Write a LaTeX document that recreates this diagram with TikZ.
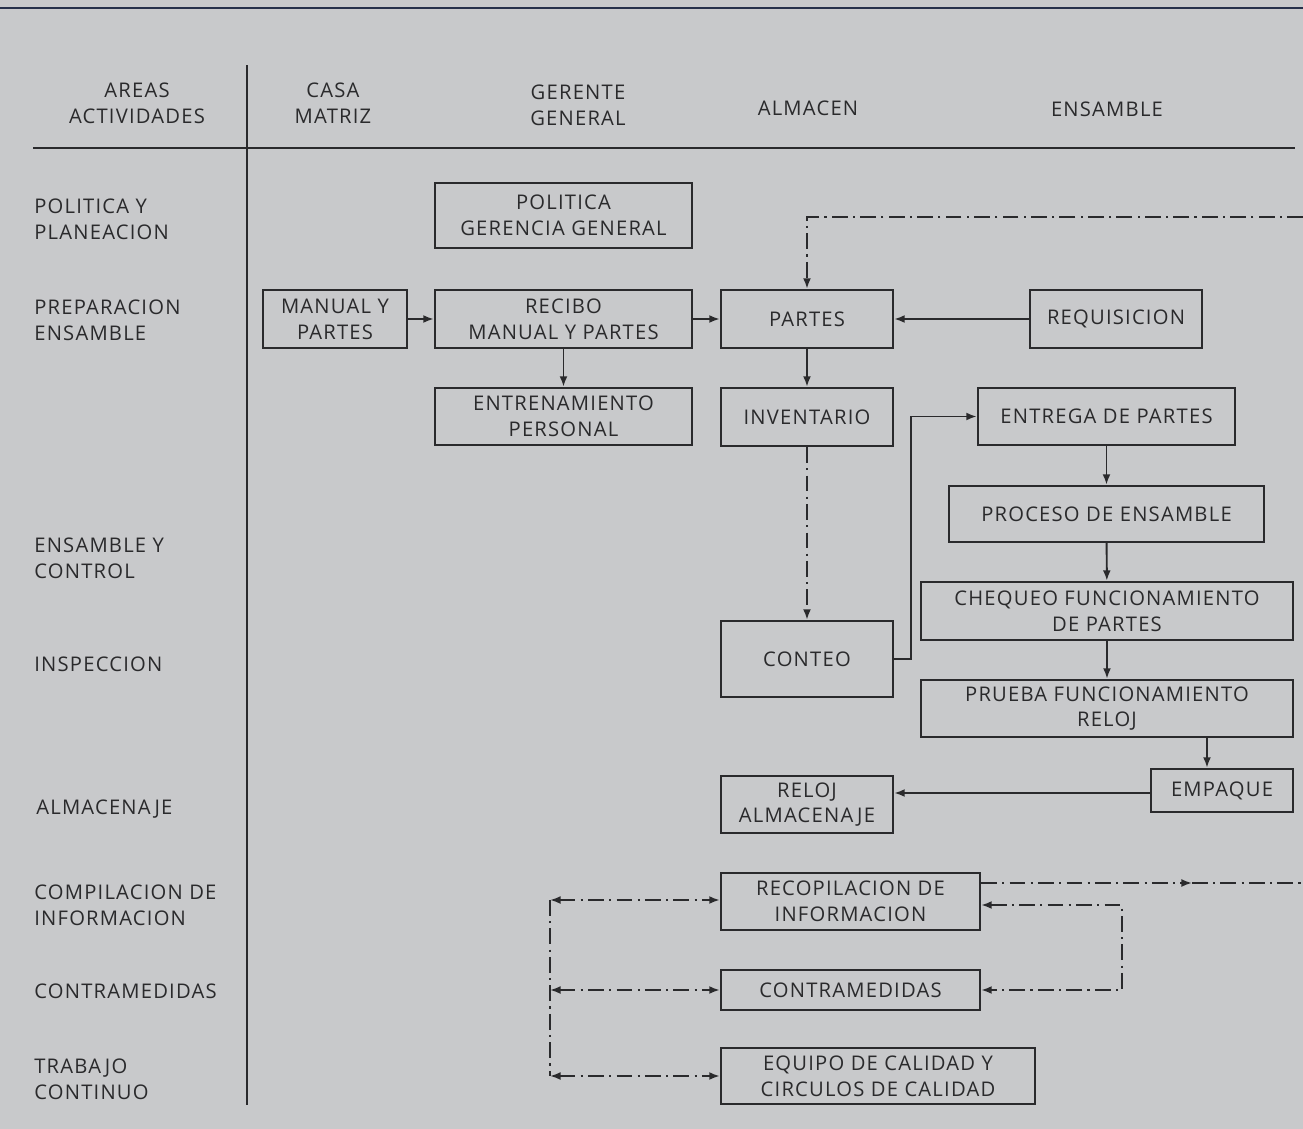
\documentclass[tikz,border=0pt]{standalone}
\usepackage{fontspec}
\setmainfont{Open Sans}[LetterSpace=6]
\usetikzlibrary{arrows.meta,positioning}
\definecolor{paper}{HTML}{C8C9CB}
\definecolor{ink}{HTML}{2A2A2C}
\definecolor{rule}{HTML}{26304A}
\newlength{\pxu}
\setlength{\pxu}{0.02cm}
\tikzset{
  box/.style={draw=ink,line width=1.3pt,text=ink,align=center,inner sep=0pt},
  lbl/.style={text=ink,align=center,inner sep=0pt},
  row/.style={text=ink,align=left,anchor=west,inner sep=0pt},
  arr/.style={draw=ink,line width=1.1pt,-{Latex[length=6pt,width=4.5pt]}},
  both/.style={draw=ink,line width=1.1pt,{Latex[length=6pt,width=4.5pt]}-{Latex[length=6pt,width=4.5pt]}},
  dd/.style={dash pattern=on 9pt off 3pt on 1.2pt off 3pt},
  sz/.style n args={2}{minimum width=#1\pxu,minimum height=#2\pxu}
}
\begin{document}
\begin{tikzpicture}[x=0.02cm,y=-0.02cm,font=\fontsize{11.5}{14.7}\selectfont]
  \fill[paper] (0,0) rectangle (1303,1129);
  \useasboundingbox (0,0) rectangle (1303,1129);
  % table rules
  \draw[rule,line width=1.5pt] (0,8) -- (1303,8);
  \draw[ink,line width=1.4pt] (33,148) -- (1295,148);
  \draw[ink,line width=1pt] (247,65) -- (247,1105);
  % column heads
  \node[lbl] (hAreas) at (137,103) {AREAS\\ACTIVIDADES};
  \node[lbl] (hCasa) at (333,103) {CASA\\MATRIZ};
  \node[lbl] (hGer) at (578,105) {GERENTE\\GENERAL};
  \node[lbl] (hAlm) at (808,108) {ALMACEN};
  \node[lbl] (hEns) at (1107,109) {ENSAMBLE};
  % row heads
  \node[row] (rPol) at (34,219) {POLITICA Y\\PLANEACION};
  \node[row] (rPrep) at (34,320.5) {PREPARACION\\ENSAMBLE};
  \node[row] (rEns) at (34,558.5) {ENSAMBLE Y\\CONTROL};
  \node[row] (rInsp) at (34,664) {INSPECCION};
  \node[row] (rAlm) at (36,809) {ALMACENAJE};
  \node[row] (rComp) at (34,905) {COMPILACION DE\\INFORMACION};
  \node[row] (rContra) at (34,991) {CONTRAMEDIDAS};
  \node[row] (rTrab) at (34,1079) {TRABAJO\\CONTINUO};
  % boxes
  \node[box,sz={257}{65}] (pol) at (563.5,215.5) {POLITICA\\GERENCIA GENERAL};
  \node[box,sz={144}{58}] (man) at (335,319) {MANUAL Y\\PARTES};
  \node[box,sz={257}{58}] (rec) at (563.5,319) {RECIBO\\MANUAL Y PARTES};
  \node[box,sz={257}{57}] (entp) at (563.5,416.5) {ENTRENAMIENTO\\PERSONAL};
  \node[box,sz={172}{58}] (par) at (807,319) {PARTES};
  \node[box,sz={172}{58}] (req) at (1116,319) {REQUISICION};
  \node[box,sz={172}{58}] (inv) at (807,417) {INVENTARIO};
  \node[box,sz={257}{57}] (entr) at (1106.5,416.5) {ENTREGA DE PARTES};
  \node[box,sz={315}{56}] (proc) at (1106.5,514) {PROCESO DE ENSAMBLE};
  \node[box,sz={372}{58}] (cheq) at (1107,611) {CHEQUEO FUNCIONAMIENTO\\DE PARTES};
  \node[box,sz={172}{76}] (cont) at (807,659) {CONTEO};
  \node[box,sz={372}{57}] (prue) at (1107,708.5) {PRUEBA FUNCIONAMIENTO\\RELOJ};
  \node[box,sz={142}{43}] (emp) at (1222,790.5) {EMPAQUE};
  \node[box,sz={172}{57}] (alm) at (807,804.5) {RELOJ\\ALMACENAJE};
  \node[box,sz={259}{57}] (recop) at (850.5,901.5) {RECOPILACION DE\\INFORMACION};
  \node[box,sz={259}{40}] (contr) at (850.5,990) {CONTRAMEDIDAS};
  \node[box,sz={314}{56}] (equi) at (878,1076) {EQUIPO DE CALIDAD Y\\CIRCULOS DE CALIDAD};
  % loose ends of the flow lines
  \coordinate (topR) at (1303,217);
  \coordinate (infoM) at (1192,883);
  \coordinate (infoR) at (1303,883);
  \coordinate (loopR) at (1122,905);
  \coordinate (loopL) at (550,900);
  % solid flow
  \draw[arr] (man) -- (rec);
  \draw[arr] (rec) -- (par);
  \draw[arr] (rec) -- (entp);
  \draw[arr] (req) -- (par);
  \draw[arr] (par) -- (inv);
  \draw[arr] (cont.east) -- ++(17,0) |- (entr.west);
  \draw[arr] (entr) -- (proc);
  \draw[arr] (proc) -- (cheq);
  \draw[arr] (cheq) -- (prue);
  \draw[arr] ([xshift=-15\pxu]prue.south -| emp.north) -- ([xshift=-15\pxu]emp.north);
  \draw[arr] (emp.west |- 0,793) -- (alm.east |- 0,793);
  % dash-dot flow
  \draw[arr,dd] (topR) -| (par.north);
  \draw[arr,dd] (inv) -- (cont);
  \draw[arr,dd] (recop.east |- infoM) -- (infoM);
  \draw[ink,line width=1.1pt,dd] (infoM) -- (infoR);
  \draw[both,dd] (recop.east |- loopR) -- (loopR) |- (contr.east);
  \draw[ink,line width=1.1pt,dd] (loopL) -- (loopL |- equi.west);
  \draw[both,dd] (loopL) -- (recop.west |- loopL);
  \draw[both,dd] (loopL |- contr.west) -- (contr.west);
  \draw[both,dd] (loopL |- equi.west) -- (equi.west);
\end{tikzpicture}
\end{document}
